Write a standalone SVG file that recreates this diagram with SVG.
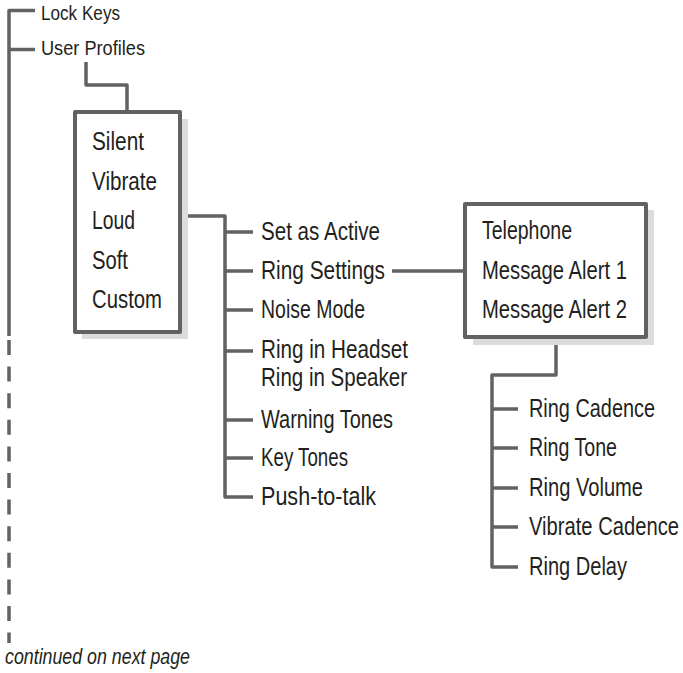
<svg xmlns="http://www.w3.org/2000/svg" width="683" height="673" viewBox="0 0 683 673">
<style>
.ln{fill:none;stroke:#626262;stroke-width:3.5;stroke-linejoin:round;stroke-linecap:butt}
.bx{fill:#fff;stroke:#626262;stroke-width:4;stroke-linejoin:round}
.sh{fill:#dcdcde}
.t{font-family:"Liberation Sans Narrow","Liberation Sans",Arial,sans-serif;fill:#231f20;font-size:25px}
.s{font-size:20px}
.i{font-style:italic;font-size:22px}
</style>
<rect width="683" height="673" fill="#fff"/>
<g id="connectors">
<path class="ln" d="M35,10.5 H9 V336"/>
<path class="ln" d="M35,49.5 H9"/>
<line class="ln" x1="9" y1="340" x2="9" y2="643" stroke-dasharray="15 11.6" stroke-width="4"/>
<path class="ln" d="M86,62 V85 H127 V110"/>
<path class="ln" d="M180,216 H225 V497 H253"/>
<path class="ln" d="M225,232 H253 M225,271 H253 M225,310 H253 M225,351 H253 M225,420 H253 M225,458 H253"/>
<path class="ln" d="M392,271 H464"/>
<path class="ln" d="M556,339 V375 H492 V567 H518"/>
<path class="ln" d="M492,409 H518 M492,448 H518 M492,488 H518 M492,527 H518"/>
</g>
<g id="lock-keys"><text class="t s" x="41" y="20" textLength="79" lengthAdjust="spacingAndGlyphs">Lock Keys</text></g>
<g id="user-profiles"><text class="t s" x="41" y="55" textLength="104" lengthAdjust="spacingAndGlyphs">User Profiles</text></g>
<g id="profiles-box">
<rect class="sh" x="82" y="119" width="106" height="220"/>
<rect class="bx" x="75" y="112" width="105" height="220"/>
<text class="t" x="92" y="150" textLength="52" lengthAdjust="spacingAndGlyphs">Silent</text>
<text class="t" x="92" y="189.5" textLength="65" lengthAdjust="spacingAndGlyphs">Vibrate</text>
<text class="t" x="92" y="229" textLength="43" lengthAdjust="spacingAndGlyphs">Loud</text>
<text class="t" x="92" y="268.5" textLength="36" lengthAdjust="spacingAndGlyphs">Soft</text>
<text class="t" x="92" y="308" textLength="70" lengthAdjust="spacingAndGlyphs">Custom</text>
</g>
<g id="set-as-active"><text class="t" x="261" y="240" textLength="119" lengthAdjust="spacingAndGlyphs">Set as Active</text></g>
<g id="ring-settings"><text class="t" x="261" y="279" textLength="124" lengthAdjust="spacingAndGlyphs">Ring Settings</text></g>
<g id="noise-mode"><text class="t" x="261" y="318" textLength="104" lengthAdjust="spacingAndGlyphs">Noise Mode</text></g>
<g id="ring-headset-speaker">
<text class="t" x="261" y="358" textLength="147" lengthAdjust="spacingAndGlyphs">Ring in Headset</text>
<text class="t" x="261" y="386" textLength="146" lengthAdjust="spacingAndGlyphs">Ring in Speaker</text>
</g>
<g id="warning-tones"><text class="t" x="261" y="428" textLength="132" lengthAdjust="spacingAndGlyphs">Warning Tones</text></g>
<g id="key-tones"><text class="t" x="261" y="466" textLength="87" lengthAdjust="spacingAndGlyphs">Key Tones</text></g>
<g id="push-to-talk"><text class="t" x="261" y="505" textLength="115" lengthAdjust="spacingAndGlyphs">Push-to-talk</text></g>
<g id="alerts-box">
<rect class="sh" x="473" y="210" width="181" height="135"/>
<rect class="bx" x="465" y="204" width="181" height="133"/>
<text class="t" x="482" y="238.5" textLength="90" lengthAdjust="spacingAndGlyphs">Telephone</text>
<text class="t" x="482" y="279" textLength="145" lengthAdjust="spacingAndGlyphs">Message Alert 1</text>
<text class="t" x="482" y="318" textLength="145" lengthAdjust="spacingAndGlyphs">Message Alert 2</text>
</g>
<g id="ring-cadence"><text class="t" x="529" y="417" textLength="126" lengthAdjust="spacingAndGlyphs">Ring Cadence</text></g>
<g id="ring-tone"><text class="t" x="529" y="456" textLength="88" lengthAdjust="spacingAndGlyphs">Ring Tone</text></g>
<g id="ring-volume"><text class="t" x="529" y="496" textLength="114" lengthAdjust="spacingAndGlyphs">Ring Volume</text></g>
<g id="vibrate-cadence"><text class="t" x="529" y="535" textLength="150" lengthAdjust="spacingAndGlyphs">Vibrate Cadence</text></g>
<g id="ring-delay"><text class="t" x="529" y="575" textLength="98" lengthAdjust="spacingAndGlyphs">Ring Delay</text></g>
<g id="continued"><text class="t i" x="5" y="664" textLength="185" lengthAdjust="spacingAndGlyphs">continued on next page</text></g>
</svg>
